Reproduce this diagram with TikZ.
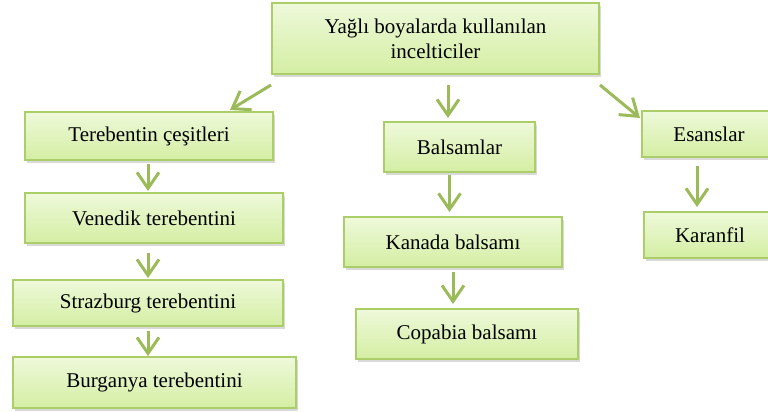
\documentclass[tikz,border=0pt]{standalone}
\usepackage{fontspec}
\setmainfont{Liberation Serif}
\usetikzlibrary{arrows.meta,shadows}
\definecolor{kutuust}{RGB}{238,249,218}
\definecolor{kutualt}{RGB}{212,238,163}
\definecolor{kenar}{RGB}{172,206,104}
\definecolor{okrenk}{RGB}{155,187,89}

\begin{document}
\begin{tikzpicture}[x=0.5pt, y=-0.5pt,
    kutu/.style={draw=kenar, line width=1pt, top color=kutuust, bottom color=kutualt,
      inner sep=0pt, align=center, font=\fontsize{10.5}{12.5}\selectfont,
      drop shadow={shadow xshift=1pt, shadow yshift=-1.5pt, opacity=0.3}},
    okcizgi/.style={draw=okrenk, line width=1.5pt, -{Straight Barb[length=8pt,width=11pt]}}]

    \useasboundingbox (0, 0) rectangle (768, 412);

    % ust kutu
    \node[kutu, minimum width=163.5pt, minimum height=35.5pt] (ana) at (435.5, 38.5) {Yağlı boyalarda kullanılan\\incelticiler};

    % terebentinler
    \node[kutu, minimum width=124pt, minimum height=24pt] (tc) at (149, 136) {Terebentin çeşitleri};
    \node[kutu, minimum width=129pt, minimum height=25pt] (vt) at (154, 218) {Venedik terebentini};
    \node[kutu, minimum width=135pt, minimum height=23pt] (st) at (148, 303) {Strazburg terebentini};
    \node[kutu, minimum width=141.5pt, minimum height=25.5pt] (bt) at (154.5, 382.5) {Burganya terebentini};

    % balsamlar
    \node[kutu, minimum width=75.5pt, minimum height=25pt] (bl) at (459.5, 147) {Balsamlar};
    \node[kutu, minimum width=109pt, minimum height=25pt] (kb) at (453, 242) {Kanada balsamı};
    \node[kutu, minimum width=111pt, minimum height=25pt] (cb) at (467, 334) {Copabia balsamı};

    % esanslar
    \node[kutu, minimum width=67pt, minimum height=23pt] (es) at (709, 134) {Esanslar};
    \node[kutu, minimum width=66pt, minimum height=23pt] (kr) at (710, 235) {Karanfil};

    % oklar
    \draw[okcizgi] ([yshift=-5pt]ana.south west) -- ([xshift=40.5pt, yshift=0.5pt]tc.north);
    \draw[okcizgi] ([xshift=6.25pt, yshift=-5pt]ana.south) -- ([xshift=-5.75pt, yshift=1.5pt]bl.north);
    \draw[okcizgi] ([yshift=-5pt]ana.south east) -- ([xshift=-0.5pt, yshift=-4pt]es.north west);

    \draw[okcizgi, shorten <=1.5pt, shorten >=0.5pt] ([xshift=-0.5pt]tc.south) -- ([xshift=-0.5pt]tc.south |- vt.north);
    \draw[okcizgi, shorten <=4.5pt, shorten >=0.5pt] (st.north |- vt.south) -- (st.north);
    \draw[okcizgi, shorten <=2pt] (st.south) -- (st.south |- bt.north);

    \draw[okcizgi, shorten <=1pt, shorten >=2pt] ([xshift=-5pt]bl.south) -- ([xshift=-5pt]bl.south |- kb.north);
    \draw[okcizgi, shorten <=2pt, shorten >=2pt] (kb.south) -- (kb.south |- cb.north);

    \draw[okcizgi, shorten <=4pt, shorten >=2pt] ([xshift=-6pt]es.south) -- ([xshift=-6pt]es.south |- kr.north);

\end{tikzpicture}
\end{document}
